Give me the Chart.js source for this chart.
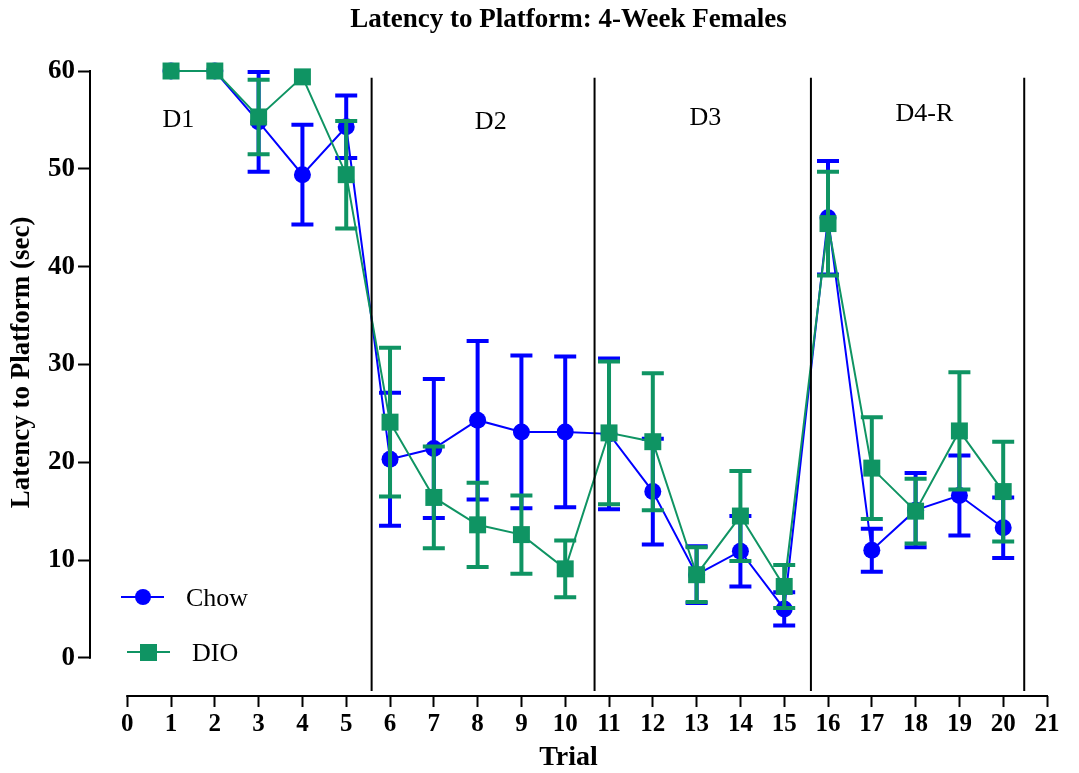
<!DOCTYPE html>
<html>
<head>
<meta charset="utf-8">
<title>Latency to Platform: 4-Week Females</title>
<script src="https://cdn.jsdelivr.net/npm/chart.js@4/dist/chart.umd.min.js"></script>
<style>
  html, body { margin: 0; padding: 0; background: #fff; }
  #wrap { width: 1079px; height: 773px; position: relative; }
</style>
</head>
<body>
<div id="wrap"><canvas id="latencyChart"></canvas></div>
<script>
// Trials and group means / SEM
const trials = [1, 2, 3, 4, 5, 6, 7, 8, 9, 10, 11, 12, 13, 14, 15, 16, 17, 18, 19, 20];
const chowMean = [60, 60, 54.8, 49.4, 54.3, 20.3, 21.4, 24.3, 23.1, 23.1, 22.9, 17.0, 8.5, 10.9, 5.0, 45.0, 11.0, 15.1, 16.6, 13.3];
const chowSem = [0, 0, 5.1, 5.1, 3.2, 6.8, 7.1, 8.1, 7.8, 7.7, 7.7, 5.4, 2.9, 3.6, 1.7, 5.8, 2.2, 3.8, 4.1, 3.1];
const dioMean = [60, 60, 55.3, 59.4, 49.4, 24.1, 16.4, 13.6, 12.6, 9.1, 23.0, 22.1, 8.5, 14.5, 7.3, 44.4, 19.4, 15.0, 23.2, 17.0];
const dioSem = [0, 0, 3.8, 0, 5.5, 7.6, 5.2, 4.3, 4.0, 2.9, 7.3, 7.0, 2.8, 4.6, 2.2, 5.3, 5.2, 3.3, 6.0, 5.1];

const xTicks = [0, 1, 2, 3, 4, 5, 6, 7, 8, 9, 10, 11, 12, 13, 14, 15, 16, 17, 18, 19, 20, 21];
const yTicks = [0, 10, 20, 30, 40, 50, 60];

// Day separators (trial units) and day labels
const dayBreaks = [5.58, 10.67, 15.61, 20.48];
const dayLabels = ['D1', 'D2', 'D3', 'D4-R'];
const dayLabelX = [1.17, 8.3, 13.2, 18.2];
const dayLabelY = [55, 54.8, 55.2, 55.6];

const BLUE = '#0000ff';
const GREEN = '#0f9463';
const SERIF = '"Liberation Serif", "Times New Roman", serif';

const toPoints = (ys) => trials.map((t, i) => ({ x: t, y: ys[i] }));

// Error bars drawn just before each dataset so the markers sit on top
const errorBars = {
  id: 'errorBars',
  beforeDatasetDraw(chart, args) {
    const ds = chart.data.datasets[args.index];
    if (!ds.sem) return;
    const { ctx, scales: { x, y } } = chart;
    ctx.save();
    ctx.strokeStyle = ds.borderColor;
    ctx.lineWidth = 4;
    ds.data.forEach((p, i) => {
      const e = ds.sem[i];
      if (!e) return;
      const px = x.getPixelForValue(p.x);
      const top = y.getPixelForValue(p.y + e);
      const bot = y.getPixelForValue(p.y - e);
      ctx.beginPath();
      ctx.moveTo(px, top);
      ctx.lineTo(px, bot);
      ctx.moveTo(px - 11, top);
      ctx.lineTo(px + 11, top);
      ctx.moveTo(px - 11, bot);
      ctx.lineTo(px + 11, bot);
      ctx.stroke();
    });
    ctx.restore();
  },
};

// Axis lines, y title, day separators, day labels and the legend
const decorations = {
  id: 'decorations',
  afterDraw(chart) {
    const { ctx, scales: { x, y } } = chart;
    ctx.save();
    ctx.strokeStyle = '#000';
    ctx.lineWidth = 2;

    // y axis runs 0..60 only
    const ax = chart.chartArea.left;
    ctx.beginPath();
    ctx.moveTo(ax, y.getPixelForValue(0) + 1);
    ctx.lineTo(ax, y.getPixelForValue(60) - 1);
    ctx.stroke();

    // x axis runs 0..21 only
    const ay = chart.chartArea.bottom;
    ctx.beginPath();
    ctx.moveTo(x.getPixelForValue(0) - 1, ay);
    ctx.lineTo(x.getPixelForValue(21) + 1, ay);
    ctx.stroke();

    // y title, centred on the 0..60 span
    ctx.fillStyle = '#000';
    ctx.font = 'bold 27px ' + SERIF;
    ctx.textAlign = 'center';
    ctx.textBaseline = 'middle';
    ctx.save();
    ctx.translate(22, y.getPixelForValue(30) - 2);
    ctx.rotate(-Math.PI / 2);
    ctx.fillText('Latency to Platform (sec)', 0, 0);
    ctx.restore();

    // separators between days
    dayBreaks.forEach((b) => {
      const px = x.getPixelForValue(b);
      ctx.beginPath();
      ctx.moveTo(px, y.getPixelForValue(59.3));
      ctx.lineTo(px, y.getPixelForValue(-3.4));
      ctx.stroke();
    });

    ctx.font = '26px ' + SERIF;
    dayLabels.forEach((lbl, i) => {
      ctx.fillText(lbl, x.getPixelForValue(dayLabelX[i]), y.getPixelForValue(dayLabelY[i]));
    });

    // legend, bottom left
    ctx.textAlign = 'left';
    ctx.strokeStyle = BLUE;
    ctx.fillStyle = BLUE;
    ctx.lineWidth = 2;
    ctx.beginPath();
    ctx.moveTo(121, 597);
    ctx.lineTo(164, 597);
    ctx.stroke();
    ctx.beginPath();
    ctx.arc(143, 597, 8, 0, Math.PI * 2);
    ctx.fill();
    ctx.fillStyle = '#000';
    ctx.fillText('Chow', 186, 599);

    ctx.strokeStyle = GREEN;
    ctx.fillStyle = GREEN;
    ctx.beginPath();
    ctx.moveTo(127, 652);
    ctx.lineTo(170, 652);
    ctx.stroke();
    ctx.fillRect(140, 644, 17, 17);
    ctx.fillStyle = '#000';
    ctx.fillText('DIO', 192, 654);
    ctx.restore();
  },
};

const ctx = document.getElementById('latencyChart').getContext('2d');

new Chart(ctx, {
  type: 'line',
  data: {
    datasets: [
      {
        label: 'Chow',
        data: toPoints(chowMean),
        sem: chowSem,
        borderColor: BLUE,
        backgroundColor: BLUE,
        borderWidth: 2,
        pointStyle: 'circle',
        pointRadius: 8.5,
        pointBorderWidth: 0,
        order: 2,
      },
      {
        label: 'DIO',
        data: toPoints(dioMean),
        sem: dioSem,
        borderColor: GREEN,
        backgroundColor: GREEN,
        borderWidth: 2,
        pointStyle: 'rect',
        pointRadius: 12,
        pointBorderWidth: 0,
        order: 1,
      },
    ],
  },
  options: {
    responsive: true,
    maintainAspectRatio: false,
    animation: false,
    clip: false,
    layout: {
      padding: { left: 45, right: 32, top: 0, bottom: 1 },
    },
    plugins: {
      legend: { display: false },
      tooltip: { enabled: false },
      title: {
        display: true,
        fullSize: false,
        text: 'Latency to Platform: 4-Week Females',
        color: '#000',
        font: { family: SERIF, size: 27, weight: 'bold' },
        padding: { top: 4, bottom: 34.6 },
      },
    },
    scales: {
      x: {
        type: 'linear',
        min: -0.85,
        max: 21,
        afterBuildTicks: (scale) => {
          scale.ticks = xTicks.map((v) => ({ value: v }));
        },
        grid: {
          drawOnChartArea: false,
          drawTicks: true,
          tickLength: 11,
          tickWidth: 2,
          tickColor: '#000',
        },
        border: { display: false },
        ticks: {
          color: '#000',
          padding: 3,
          maxRotation: 0,
          autoSkip: false,
          font: { family: SERIF, size: 25, weight: 'bold' },
        },
        title: {
          display: true,
          text: 'Trial',
          color: '#000',
          font: { family: SERIF, size: 28, weight: 'bold', lineHeight: 1 },
          padding: { top: 1, bottom: 0 },
        },
      },
      y: {
        min: -3.9,
        max: 60,
        afterBuildTicks: (scale) => {
          scale.ticks = yTicks.map((v) => ({ value: v }));
        },
        grid: {
          drawOnChartArea: false,
          drawTicks: true,
          tickLength: 12,
          tickWidth: 2,
          tickColor: '#000',
        },
        border: { display: false },
        ticks: {
          color: '#000',
          padding: 3,
          font: { family: SERIF, size: 27, weight: 'bold' },
        },
      },
    },
  },
  plugins: [errorBars, decorations],
});
</script>
</body>
</html>
